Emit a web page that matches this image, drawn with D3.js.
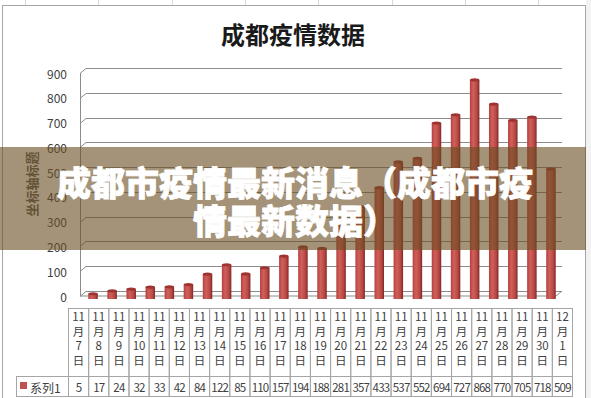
<!DOCTYPE html>
<html>
<head>
<meta charset="utf-8">
<script src="https://cdn.jsdelivr.net/npm/d3@7"></script>
<style>
body { margin: 0; background: #fff; }
svg { display: block; font-family: "Noto Sans CJK SC", "DejaVu Sans", sans-serif; }
</style>
</head>
<body>
<svg id="plot" width="591" height="398"></svg>
<script>
// data
let dates = ["11月7日","11月8日","11月9日","11月10日","11月11日","11月12日","11月13日","11月14日",
  "11月15日","11月16日","11月17日","11月18日","11月19日","11月20日","11月21日","11月22日",
  "11月23日","11月24日","11月25日","11月26日","11月27日","11月28日","11月29日","11月30日","12月1日"];
let values = [5,17,24,32,33,42,84,122,85,110,157,194,188,281,357,433,537,552,694,727,868,770,705,718,509];
let yTicks = [0,100,200,300,400,500,600,700,800,900];
let seriesName = "系列1";
let title = "成都疫情数据";
let yTitle = "坐标轴标题";
let overlayLines = ["成都市疫情最新消息（成都市疫", "情最新数据）"];

let svg = d3.select("#plot");
let W = 591, H = 398;

// spreadsheet behind the chart
let sheet = svg.append("g").attr("stroke", "#d9d9d9").attr("stroke-width", 1);
[25, 98, 172, 245, 318, 392, 465, 538].forEach(x => {
  sheet.append("line").attr("x1", x + .5).attr("x2", x + .5).attr("y1", 0).attr("y2", 5);
});
svg.append("rect").attr("x", 586).attr("y", 0).attr("width", 5).attr("height", H).attr("fill", "#f2f2f2");
d3.range(20, H, 20).forEach(y => {
  sheet.append("line").attr("x1", 586).attr("x2", 591).attr("y1", y + .5).attr("y2", y + .5);
});

// chart frame
svg.append("rect").attr("x", 2.5).attr("y", 5.5).attr("width", 583).attr("height", 400)
  .attr("fill", "#fff").attr("stroke", "#a6a6a6");

svg.append("text").attr("x", 293).attr("y", 33).attr("text-anchor", "middle")
  .attr("dominant-baseline", "central").attr("font-size", 24).attr("font-weight", "bold")
  .attr("fill", "#1a1a1a").text(title);

// scales
let left = 80, depth = 6, right = 562;
let y_scale = d3.scaleLinear([0, 900], [291, 68]);
let x_bar = d3.scaleBand(dates, [83.5, 560.5]);
let x_tab = d3.scaleBand(dates, [68, 572]);

// back wall grid
let grid = svg.append("g").attr("stroke", "#8c8c8c").attr("fill", "none").attr("stroke-width", 1);
yTicks.forEach(t => {
  let y = Math.round(y_scale(t)) + .5;
  grid.append("path").attr("d", `M${left},${y + 5} L${left + depth},${y} L${right},${y}`);
});
grid.append("line").attr("x1", left + .5).attr("x2", left + .5)
  .attr("y1", y_scale(900) + 5).attr("y2", y_scale(0) + 5);
// floor
svg.append("path")
  .attr("d", `M${left},${y_scale(0) + 5} L${right - depth},${y_scale(0) + 5} L${right},${y_scale(0)}`)
  .attr("stroke", "#8c8c8c").attr("fill", "none");

svg.append("g").selectAll("text").data(yTicks).join("text")
  .attr("x", 67).attr("y", d => y_scale(d) + 5)
  .attr("text-anchor", "end").attr("dominant-baseline", "central")
  .attr("font-size", 12).attr("fill", "#404040").text(d => d);

svg.append("text")
  .attr("transform", `translate(31,184) rotate(-90)`)
  .attr("text-anchor", "middle").attr("dominant-baseline", "central")
  .attr("font-size", 13).attr("font-weight", "bold").attr("fill", "#595959").text(yTitle);

// bars
let defs = svg.append("defs");
let grad = defs.append("linearGradient").attr("id", "barGrad").attr("x1", 0).attr("x2", 1);
grad.append("stop").attr("offset", "0%").attr("stop-color", "#b8403d");
grad.append("stop").attr("offset", "35%").attr("stop-color", "#cf605c");
grad.append("stop").attr("offset", "75%").attr("stop-color", "#b84743");
grad.append("stop").attr("offset", "100%").attr("stop-color", "#7f2624");

let bw = 9.5;
let bars = svg.append("g").selectAll("g").data(values).join("g");
bars.append("rect")
  .attr("x", (d, i) => x_bar(dates[i]) + x_bar.bandwidth() / 2 - bw / 2)
  .attr("y", d => y_scale(d) + 4)
  .attr("width", bw)
  .attr("height", d => y_scale(0) + 4 - y_scale(d))
  .attr("fill", "url(#barGrad)");
bars.append("ellipse")
  .attr("cx", (d, i) => x_bar(dates[i]) + x_bar.bandwidth() / 2)
  .attr("cy", d => y_scale(d) + 4)
  .attr("rx", bw / 2).attr("ry", 1.6)
  .attr("fill", "#9e3431");

// data table
let tab = svg.append("g");
let tabTop = 308, tabMid = 376, tabBot = 396;
tab.append("g").selectAll("rect").data(dates).join("rect")
  .attr("x", d => x_tab(d) + .5).attr("y", tabTop + .5)
  .attr("width", x_tab.bandwidth()).attr("height", tabMid - tabTop)
  .attr("fill", "none").attr("stroke", "#a6a6a6");
tab.append("g").selectAll("rect").data(dates).join("rect")
  .attr("x", d => x_tab(d) + .5).attr("y", tabMid + .5)
  .attr("width", x_tab.bandwidth()).attr("height", tabBot - tabMid)
  .attr("fill", "none").attr("stroke", "#a6a6a6");
tab.append("rect").attr("x", 16.5).attr("y", tabMid + .5).attr("width", 52).attr("height", tabBot - tabMid)
  .attr("fill", "none").attr("stroke", "#a6a6a6");

let dateParts = d => {
  let m = d.match(/(\d+)月(\d+)日/);
  return [m[1], "月", m[2], "日"];
};
dates.forEach(d => {
  let cx = x_tab(d) + x_tab.bandwidth() / 2 + .5;
  dateParts(d).forEach((p, k) => {
    tab.append("text").attr("x", cx).attr("y", 316 + k * 14.5)
      .attr("text-anchor", "middle").attr("dominant-baseline", "central")
      .attr("font-size", 11.5).attr("fill", "#404040").text(p);
  });
});
tab.append("g").selectAll("text").data(values).join("text")
  .attr("x", (d, i) => x_tab(dates[i]) + x_tab.bandwidth() / 2 + .5)
  .attr("y", (tabMid + tabBot) / 2 + 1)
  .attr("text-anchor", "middle").attr("dominant-baseline", "central")
  .attr("font-size", 11.5).attr("letter-spacing", -0.8).attr("fill", "#404040").text(d => d);
tab.append("rect").attr("x", 20).attr("y", 382).attr("width", 7).attr("height", 7).attr("fill", "#c0504d");
tab.append("text").attr("x", 30).attr("y", (tabMid + tabBot) / 2 + 1).attr("dominant-baseline", "central")
  .attr("font-size", 12).attr("fill", "#404040").text(seriesName);

// overlay band with headline
svg.append("rect").attr("x", 0).attr("y", 147).attr("width", 586).attr("height", 103)
  .attr("fill", "rgb(107,78,34)").attr("fill-opacity", 0.61);
svg.append("g").selectAll("text").data(overlayLines).join("text")
  .attr("x", 295).attr("y", (d, i) => 181 + i * 38)
  .attr("text-anchor", "middle").attr("dominant-baseline", "central")
  .attr("font-size", 34).attr("font-weight", 900).attr("fill", "#fff")
  .style("paint-order", "stroke").attr("stroke", "#fff").attr("stroke-width", 0.8)
  .text(d => d);
</script>
</body>
</html>
